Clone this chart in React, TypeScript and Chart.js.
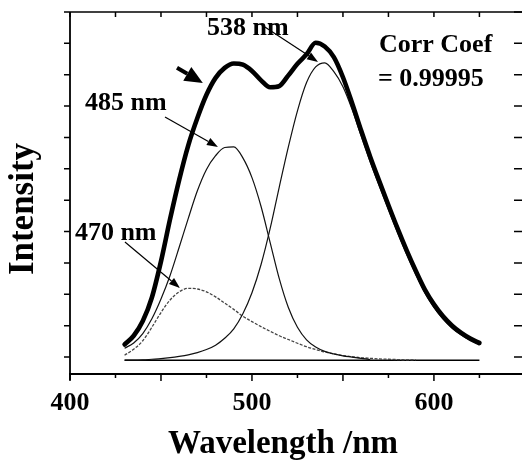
import React, { useEffect, useRef } from 'react';
import { Chart, registerables } from 'chart.js';

Chart.register(...registerables);

const FONT = '"Liberation Serif", "Times New Roman", serif';

// ---- data (wavelength in nm, intensity in arbitrary units) ----
const wavelengths = [430, 435, 440, 445, 450, 455, 460, 465, 470, 475, 480, 485, 490, 495, 500, 505, 510, 515, 520, 525, 530, 535, 540, 545, 550, 555, 560, 565, 570, 575, 580, 585, 590, 595, 600, 605, 610, 615, 620, 625];
const measured = [0.40, 0.68, 1.15, 1.90, 3.05, 4.40, 5.65, 6.75, 7.62, 8.36, 8.90, 9.22, 9.36, 9.32, 9.12, 8.82, 8.60, 8.64, 8.98, 9.35, 9.65, 10.02, 9.90, 9.56, 8.92, 8.10, 7.22, 6.38, 5.60, 4.84, 4.10, 3.40, 2.75, 2.15, 1.68, 1.30, 1.00, 0.77, 0.59, 0.45];
const fit538 = [-0.10, -0.10, -0.09, -0.07, -0.05, -0.02, 0.02, 0.07, 0.14, 0.24, 0.38, 0.60, 0.90, 1.38, 2.05, 2.95, 4.10, 5.42, 6.70, 7.85, 8.75, 9.25, 9.38, 9.10, 8.62, 7.90, 7.05, 6.22, 5.45, 4.70, 3.97, 3.28, 2.64, 2.05, 1.58, 1.21, 0.92, 0.70, 0.52, 0.38];

const wavelengths485 = [430, 435, 440, 445, 450, 455, 460, 465, 470, 475, 480, 485, 490, 495, 500, 505, 510, 515, 520, 525, 530, 535, 540, 545, 550, 555, 560, 565];
const fit485 = [0.28, 0.45, 0.75, 1.22, 1.85, 2.60, 3.50, 4.42, 5.30, 5.98, 6.42, 6.68, 6.70, 6.35, 5.72, 4.80, 3.65, 2.50, 1.58, 0.95, 0.55, 0.32, 0.18, 0.10, 0.04, 0.00, -0.04, -0.08];

const wavelengths470 = [430, 435, 440, 445, 450, 455, 460, 465, 470, 475, 480, 485, 490, 495, 500, 505, 510, 515, 520, 525, 530, 535, 540, 545, 550, 555, 560, 565, 570, 575, 580, 585, 590];
const fit470 = [0.06, 0.25, 0.52, 0.95, 1.42, 1.82, 2.08, 2.19, 2.17, 2.08, 1.92, 1.72, 1.52, 1.30, 1.13, 0.97, 0.82, 0.68, 0.56, 0.44, 0.33, 0.24, 0.16, 0.10, 0.05, 0.01, -0.02, -0.04, -0.06, -0.07, -0.08, -0.09, -0.09];

const baselineWavelengths = [430, 625];
const baselineLevel = [-0.1, -0.1];

// ---- axes ----
const xLabelValues = [400, 500, 600];
const xMajorTicks = [400, 450, 500, 550, 600];
const xMinorTicks = [425, 475, 525, 575, 625];
const yTickValues = [0, 1, 2, 3, 4, 5, 6, 7, 8, 9, 10, 11];
const xTitle = 'Wavelength /nm';
const yTitle = 'Intensity';

// ---- annotations (data coordinates) ----
const textLabels = [
  { text: '538 nm', x: 475.3, y: 10.27 },
  { text: '485 nm', x: 408.2, y: 7.88 },
  { text: '470 nm', x: 402.7, y: 3.73 },
  { text: 'Corr Coef', x: 569.8, y: 9.73 },
  { text: '= 0.99995', x: 569.2, y: 8.64 },
];
const arrows = [
  { from: [458.8, 9.22], to: [473.0, 8.74], bold: true },
  { from: [452.2, 7.65], to: [481.3, 6.70], bold: false },
  { from: [430.2, 3.67], to: [460.4, 2.20], bold: false },
  { from: [507.1, 10.52], to: [536.3, 9.41], bold: false },
];

function toPoints(xs: number[], ys: number[]) {
  return xs.map((x, i) => ({ x, y: ys[i] }));
}

function drawArrow(ctx: CanvasRenderingContext2D, x1: number, y1: number, x2: number, y2: number, lw: number, headLen: number, headHalf: number) {
  const ang = Math.atan2(y2 - y1, x2 - x1);
  const bx = x2 - headLen * Math.cos(ang);
  const by = y2 - headLen * Math.sin(ang);
  ctx.lineWidth = lw;
  ctx.beginPath();
  ctx.moveTo(x1, y1);
  ctx.lineTo(bx, by);
  ctx.stroke();
  ctx.beginPath();
  ctx.moveTo(x2, y2);
  ctx.lineTo(bx + headHalf * Math.sin(ang), by - headHalf * Math.cos(ang));
  ctx.lineTo(bx - headHalf * Math.sin(ang), by + headHalf * Math.cos(ang));
  ctx.closePath();
  ctx.fill();
}

const decorPlugin = {
  id: 'decor',
  afterDraw(chart: any) {
    const { ctx, chartArea: a, scales } = chart;
    const xs = scales.x;
    const ys = scales.y;
    ctx.save();
    ctx.strokeStyle = '#000';
    ctx.fillStyle = '#000';
    ctx.lineCap = 'butt';

    // frame (left, bottom, top)
    ctx.lineWidth = 1.8;
    ctx.beginPath();
    ctx.moveTo(a.left, a.top);
    ctx.lineTo(a.left, a.bottom + 6);
    ctx.moveTo(a.left - 1, a.bottom);
    ctx.lineTo(a.right, a.bottom);
    ctx.stroke();
    ctx.lineWidth = 1.5;
    ctx.beginPath();
    ctx.moveTo(a.left, a.top);
    ctx.lineTo(a.right, a.top);
    ctx.stroke();

    // x ticks: bottom outward, top inward
    ctx.lineWidth = 1.5;
    ctx.beginPath();
    xMajorTicks.forEach((v) => {
      const px = xs.getPixelForValue(v);
      ctx.moveTo(px, a.bottom);
      ctx.lineTo(px, a.bottom + 7);
      ctx.moveTo(px, a.top);
      ctx.lineTo(px, a.top + 5);
    });
    xMinorTicks.forEach((v) => {
      const px = xs.getPixelForValue(v);
      ctx.moveTo(px, a.bottom);
      ctx.lineTo(px, a.bottom + 4);
      ctx.moveTo(px, a.top);
      ctx.lineTo(px, a.top + 5);
    });
    // y ticks: left outward, right (frame just beyond the picture) inward
    yTickValues.forEach((v) => {
      const py = ys.getPixelForValue(v);
      ctx.moveTo(a.left - 6, py);
      ctx.lineTo(a.left, py);
      ctx.moveTo(a.right - 8, py);
      ctx.lineTo(a.right, py);
    });
    ctx.stroke();

    // arrows
    arrows.forEach((ar) => {
      const x1 = xs.getPixelForValue(ar.from[0]);
      const y1 = ys.getPixelForValue(ar.from[1]);
      const x2 = xs.getPixelForValue(ar.to[0]);
      const y2 = ys.getPixelForValue(ar.to[1]);
      if (ar.bold) drawArrow(ctx, x1, y1, x2, y2, 4, 18, 8);
      else drawArrow(ctx, x1, y1, x2, y2, 1.2, 11, 4);
    });

    // text labels
    ctx.font = `bold 26px ${FONT}`;
    ctx.textAlign = 'left';
    ctx.textBaseline = 'alphabetic';
    textLabels.forEach((t) => {
      ctx.fillText(t.text, xs.getPixelForValue(t.x), ys.getPixelForValue(t.y));
    });

    // axis titles
    ctx.font = `bold 33px ${FONT}`;
    ctx.textAlign = 'center';
    ctx.fillText(xTitle, a.left + 213, a.bottom + 79);

    ctx.save();
    ctx.font = `bold 35px ${FONT}`;
    ctx.translate(a.left - 37, (a.top + a.bottom) / 2 + 16);
    ctx.rotate(-Math.PI / 2);
    ctx.textAlign = 'center';
    ctx.fillText(yTitle, 0, 0);
    ctx.restore();

    ctx.restore();
  },
};

export default function App() {
  const canvasRef = useRef<HTMLCanvasElement | null>(null);

  useEffect(() => {
    const canvas = canvasRef.current;
    if (!canvas) return;
    const common = { pointRadius: 0, cubicInterpolationMode: 'monotone' as const };
    const chart = new Chart(canvas, {
      type: 'line',
      data: {
        datasets: [
          { label: 'Measured', data: toPoints(wavelengths, measured), borderColor: '#000', borderWidth: 4.6, borderCapStyle: 'round', ...common },
          { label: '538 nm', data: toPoints(wavelengths, fit538), borderColor: '#111', borderWidth: 1.2, ...common },
          { label: '485 nm', data: toPoints(wavelengths485, fit485), borderColor: '#111', borderWidth: 1.2, ...common },
          { label: '470 nm', data: toPoints(wavelengths470, fit470), borderColor: '#444', borderWidth: 1.3, borderDash: [3, 1.5], ...common },
          { label: 'Baseline', data: toPoints(baselineWavelengths, baselineLevel), borderColor: '#000', borderWidth: 1.5, pointRadius: 0 },
        ],
      },
      options: {
        responsive: false,
        animation: false,
        devicePixelRatio: 1,
        layout: { padding: { top: 12, right: 0, left: 0, bottom: 0 } },
        plugins: { legend: { display: false }, tooltip: { enabled: false } },
        scales: {
          x: {
            type: 'linear',
            min: 400,
            max: 648.4,
            afterBuildTicks: (s: any) => {
              s.ticks = xLabelValues.map((v) => ({ value: v }));
            },
            afterFit: (s: any) => {
              s.height = 91;
            },
            ticks: {
              color: '#000',
              font: { family: FONT, size: 26, weight: 'bold' },
              padding: 14,
              maxRotation: 0,
              autoSkip: false,
              callback: (v: any) => String(v),
            },
            grid: { display: false, drawTicks: false },
            border: { display: false },
          },
          y: {
            type: 'linear',
            min: -0.54,
            max: 11,
            afterFit: (s: any) => {
              s.width = 70;
            },
            ticks: { display: false },
            grid: { display: false, drawTicks: false },
            border: { display: false },
          },
        },
      },
      plugins: [decorPlugin],
    });
    return () => chart.destroy();
  }, []);

  return (
    <div style={{ position: 'absolute', left: 0, top: 0, width: 522, height: 465, overflow: 'hidden', background: '#fff' }}>
      <canvas ref={canvasRef} width={522} height={465} style={{ display: 'block' }} />
    </div>
  );
}
